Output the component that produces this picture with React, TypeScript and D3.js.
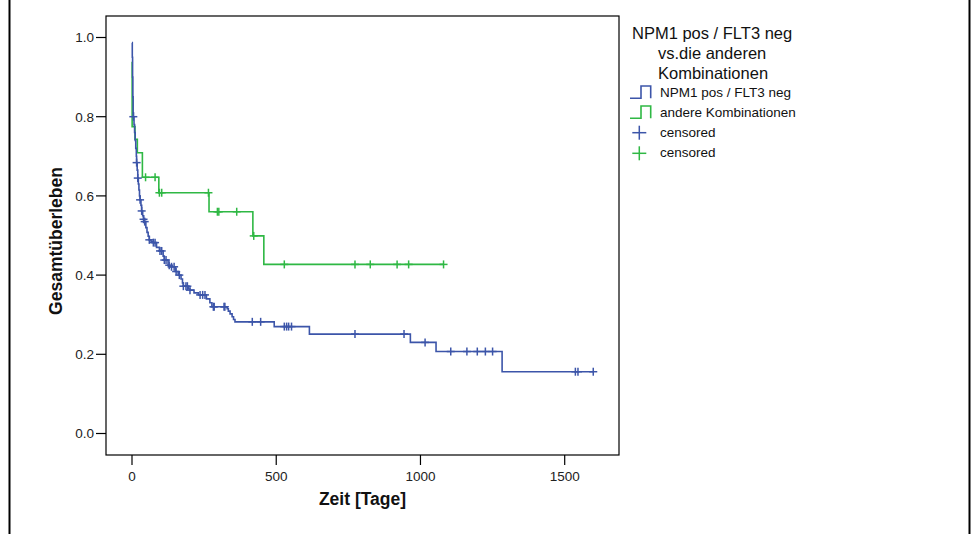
import React from "react";
import * as d3 from "d3";

// ---- data ----
const xTicks = [0, 500, 1000, 1500];
const yTicks = [0.0, 0.2, 0.4, 0.6, 0.8, 1.0];

// step points: [time (days), survival after event]
const blueSteps: [number, number][] = [
  [0, 0.987], [1, 0.95], [2, 0.9], [3, 0.85], [4, 0.81], [5, 0.8], [7, 0.78], [9, 0.76],
  [11, 0.74], [13, 0.72], [15, 0.7], [16, 0.684], [18, 0.665], [20, 0.645], [22, 0.63],
  [24, 0.615], [26, 0.6], [28, 0.59], [31, 0.576], [33.5, 0.562], [37, 0.55], [40, 0.541],
  [43, 0.535], [48, 0.52], [52, 0.508], [56, 0.498], [60, 0.489], [66, 0.485], [74, 0.482],
  [85, 0.47], [95, 0.461], [108, 0.448], [112, 0.438], [125, 0.425], [130, 0.421],
  [150, 0.409], [160, 0.4], [170, 0.39], [175, 0.38], [178, 0.372], [195, 0.365],
  [201, 0.362], [215, 0.355], [230, 0.35], [258, 0.34], [270, 0.33], [277, 0.32],
  [330, 0.315], [334, 0.309], [340, 0.302], [347, 0.295], [352, 0.288], [357, 0.282],
  [493, 0.27], [615, 0.251], [965, 0.23], [1054, 0.207], [1283, 0.156],
];
const blueEnd = 1599;
const blueCensored: [number, number][] = [
  [4.6, 0.8], [16, 0.684], [20, 0.645], [28, 0.59], [33.5, 0.562], [40, 0.541], [44, 0.535],
  [60, 0.489], [74, 0.482], [80, 0.482], [97, 0.461], [103, 0.461], [112, 0.438],
  [118, 0.438], [129, 0.425], [137, 0.421], [146, 0.421], [153, 0.409], [164, 0.4],
  [178, 0.372], [187, 0.372], [192, 0.372], [201, 0.362], [236, 0.35], [245, 0.35],
  [253, 0.35], [282, 0.32], [285, 0.32], [319, 0.32], [322, 0.32], [417, 0.282],
  [446, 0.282], [528, 0.27], [536, 0.27], [543, 0.27], [553, 0.27], [773, 0.251],
  [943, 0.251], [1016, 0.23], [1105, 0.207], [1161, 0.207], [1197, 0.207], [1225, 0.207],
  [1250, 0.207], [1537, 0.156], [1546, 0.156], [1599, 0.156],
];

const greenSteps: [number, number][] = [
  [0, 0.939], [0.5, 0.775], [10.4, 0.743], [18.5, 0.709], [36, 0.647], [93, 0.608],
  [267, 0.56], [419, 0.499], [457, 0.427],
];
const greenEnd = 1080;
const greenCensored: [number, number][] = [
  [47, 0.647], [80, 0.647], [95, 0.608], [103, 0.608], [265, 0.608], [296, 0.56],
  [301, 0.56], [363, 0.56], [422, 0.499], [528, 0.427], [773, 0.427], [826, 0.427],
  [919, 0.427], [959, 0.427], [1080, 0.427],
];

const legendTitle = ["NPM1 pos / FLT3 neg", "vs.die anderen", "Kombinationen"];
const legendItems = ["NPM1 pos / FLT3 neg", "andere Kombinationen", "censored", "censored"];

const BLUE = "#3c55a9";
const GREEN = "#2fb844";
const FONT = "'Liberation Sans', Arial, Helvetica, sans-serif";

const W = 973;
const H = 534;
const box = { left: 106, right: 619, top: 16, bottom: 455 };

const x = d3.scaleLinear().domain([0, 1500]).range([132, 564.7]);
const y = d3.scaleLinear().domain([0, 1]).range([433.5, 37.5]);

function stepPath(steps: [number, number][], end: number): string {
  const p = d3.path();
  p.moveTo(x(steps[0][0]), y(steps[0][1]));
  let cy = y(steps[0][1]);
  for (let i = 1; i < steps.length; i++) {
    const [t, s] = steps[i];
    p.lineTo(x(t), cy);
    cy = y(s);
    p.lineTo(x(t), cy);
  }
  p.lineTo(x(end), cy);
  return p.toString();
}

function Plus({ cx, cy, r, color, w = 1.5 }: { cx: number; cy: number; r: number; color: string; w?: number }) {
  return (
    <g stroke={color} strokeWidth={w}>
      <line x1={cx - r} x2={cx + r} y1={cy} y2={cy} />
      <line x1={cx} x2={cx} y1={cy - r} y2={cy + r} />
    </g>
  );
}

export default function App() {
  const itemY = [96.7, 116.7, 137, 157.3];
  return (
    <svg
      width={W}
      height={H}
      style={{ position: "absolute", left: 0, top: 0, background: "#fff" }}
      fontFamily={FONT}
    >
      <rect x={0} y={0} width={W} height={H} fill="#fff" />
      {/* outer frame */}
      <line x1={9.5} x2={9.5} y1={0} y2={H} stroke="#000" strokeWidth={2} />
      <line x1={969.5} x2={969.5} y1={0} y2={H} stroke="#000" strokeWidth={2} />

      {/* plot box */}
      <rect
        x={box.left}
        y={box.top}
        width={box.right - box.left}
        height={box.bottom - box.top}
        fill="none"
        stroke="#000"
        strokeWidth={1.2}
      />

      {/* y axis */}
      {yTicks.map((v) => (
        <g key={"y" + v}>
          <line x1={96} x2={box.left} y1={y(v)} y2={y(v)} stroke="#000" strokeWidth={1.2} />
          <text x={94} y={y(v) + 4.8} textAnchor="end" fontSize={13.5} fill="#222">
            {v.toFixed(1)}
          </text>
        </g>
      ))}
      {/* x axis */}
      {xTicks.map((v) => (
        <g key={"x" + v}>
          <line x1={x(v)} x2={x(v)} y1={box.bottom} y2={box.bottom + 10} stroke="#000" strokeWidth={1.2} />
          <text x={x(v)} y={481} textAnchor="middle" fontSize={13.5} fill="#222">
            {v}
          </text>
        </g>
      ))}
      <text x={362.5} y={505} textAnchor="middle" fontSize={17.5} fontWeight="bold" fill="#111">
        Zeit [Tage]
      </text>
      <text
        transform={`translate(62,241) rotate(-90)`}
        textAnchor="middle"
        fontSize={17.5}
        fontWeight="bold"
        fill="#111"
      >
        Gesamtüberleben
      </text>

      {/* curves */}
      <path d={stepPath(greenSteps, greenEnd)} fill="none" stroke={GREEN} strokeWidth={1.6} />
      <path d={stepPath(blueSteps, blueEnd)} fill="none" stroke={BLUE} strokeWidth={1.6} />
      {greenCensored.map(([t, s], i) => (
        <Plus key={"gc" + i} cx={x(t)} cy={y(s)} r={4} color={GREEN} />
      ))}
      {blueCensored.map(([t, s], i) => (
        <Plus key={"bc" + i} cx={x(t)} cy={y(s)} r={4} color={BLUE} />
      ))}

      {/* legend */}
      <text x={632} y={39.3} fontSize={16.5} fill="#111">{legendTitle[0]}</text>
      <text x={658} y={59.3} fontSize={16.5} fill="#111">{legendTitle[1]}</text>
      <text x={658} y={78.7} fontSize={16.5} fill="#111">{legendTitle[2]}</text>
      <path d="M630,98.3 H641 V86 H650.7 V98.3" fill="none" stroke={BLUE} strokeWidth={1.6} />
      <path d="M630,118.3 H641 V106 H650.7 V118.3" fill="none" stroke={GREEN} strokeWidth={1.6} />
      <Plus cx={639.3} cy={132.7} r={7} color={BLUE} />
      <Plus cx={639.3} cy={153.3} r={7} color={GREEN} />
      {legendItems.map((t, i) => (
        <text key={"li" + i} x={660} y={itemY[i]} fontSize={13.5} fill="#111">
          {t}
        </text>
      ))}
    </svg>
  );
}
